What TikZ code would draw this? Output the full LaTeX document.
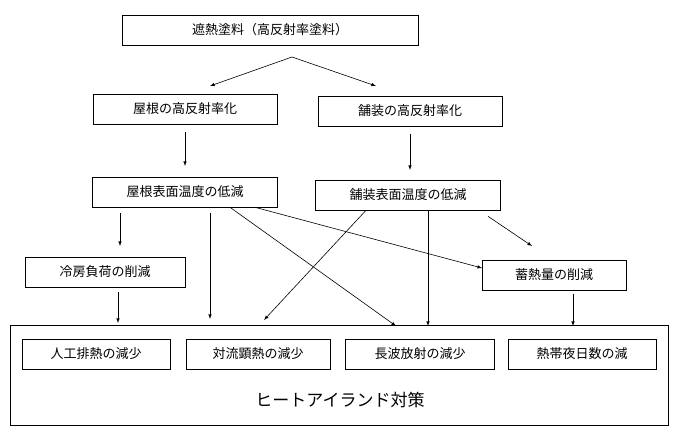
\documentclass[tikz,border=0pt]{standalone}
\usepackage{fontspec}
\setmainfont{Noto Sans CJK JP}
\usetikzlibrary{positioning}

\begin{document}
\begin{tikzpicture}[x=1pt,y=-1pt,
            box/.style={draw, semithick, minimum height=30pt, inner sep=2pt, font=\fontsize{13}{15}\selectfont},
            arr/.style={->, >=latex, semithick},
            auto
        ]
            \useasboundingbox (0,0) rectangle (680,440);
            % Frame
            \node[draw, semithick, minimum width=658pt, minimum height=100pt] (frame) at (339,375) {};
            \node[font=\fontsize{17}{19}\selectfont] (title) at (340,400) {ヒートアイランド対策};
            \begin{scope}[every node/.style={box}]
                % Boxes
                \node[minimum width=296pt] (paint) at (270,30) {遮熱塗料（高反射率塗料）};
                \node[minimum width=184pt] (roof) at (185,109) {屋根の高反射率化};
                \node[minimum width=184pt] (pave) at (410,111) {舗装の高反射率化};
                \node[minimum width=185pt] (rooft) at (185,192) {屋根表面温度の低減};
                \node[minimum width=185pt] (pavet) at (408,195) {舗装表面温度の低減};
                \node[minimum width=160pt] (cool) at (105,272) {冷房負荷の削減};
                \node[minimum width=144pt] (heat) at (554,275) {蓄熱量の削減};
                \node[minimum width=148pt] (waste) at (96,354) {人工排熱の減少};
                \node[minimum width=144pt] (conv) at (258,354) {対流顕熱の減少};
                \node[minimum width=149pt] (wave) at (420,354) {長波放射の減少};
                \node[minimum width=148pt] (night) at (582,354) {熱帯夜日数の減};
            \end{scope}
            % Arrows
            \coordinate (fork) at (292,57);
            \draw[arr] (fork) -- (210,86);
            \draw[arr] (fork) -- (376,86);
            \draw[arr] (roof.south -| 185,0) ++(0,8) -- (185,166);
            \draw[arr] (pave.south -| 410,0) ++(0,8) -- (410,170);
            \draw[arr] (rooft.south -| 120,0) ++(0,6) -- (120,246);
            \draw[arr] (rooft.south -| 210,0) ++(0,6) -- (210,319);
            \draw[arr] (rooft.south -| 230,0) -- (396,326);
            \draw[arr] (rooft.south -| 255,0) -- (482,268);
            \draw[arr] (pavet.south -| 366,0) -- (264,320);
            \draw[arr] (pavet.south -| 428,0) -- (428,326);
            \draw[arr] (pavet.south -| 488,0) ++(0,6) -- (532,246);
            \draw[arr] (cool.south -| 118,0) ++(0,5) -- (118,323);
            \draw[arr] (heat.south -| 573,0) ++(0,4) -- (573,326);
\end{tikzpicture}
\end{document}
